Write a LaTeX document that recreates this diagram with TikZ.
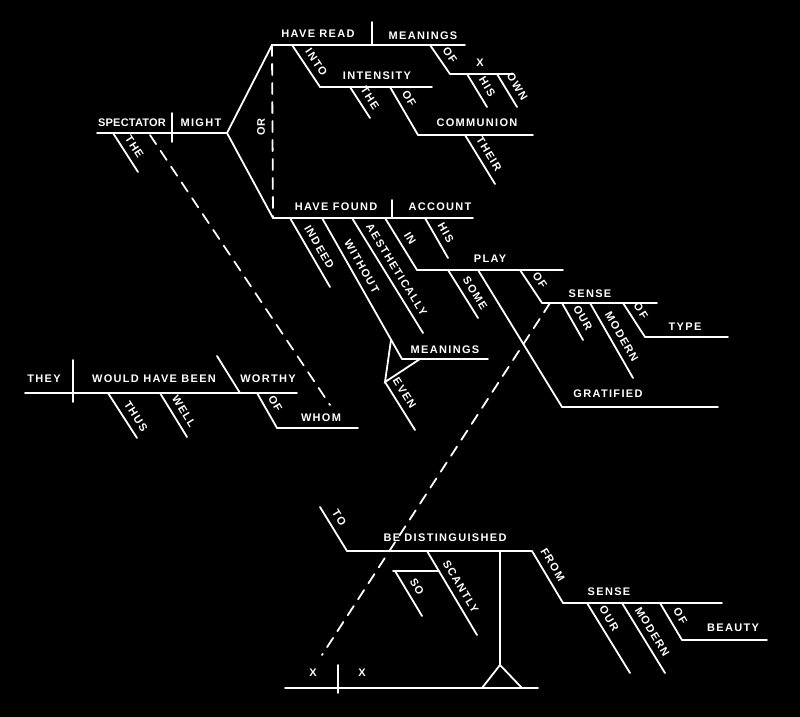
\documentclass[tikz,border=0pt]{standalone}
\usepackage{fontspec}
\newfontfamily\chalkfont[LetterSpace=12]{Liberation Sans Bold}
\newfontfamily\chalktight[LetterSpace=2]{Liberation Sans Bold}
\usetikzlibrary{positioning}

\tikzset{
  chalk/.style={draw=white, line width=1.8pt, line cap=round},
  chalkdash/.style={chalk, dash pattern=on 11pt off 8pt},
  word/.style={text=white, font=\chalkfont\fontsize{11}{13}\selectfont, inner sep=1pt},
  tightword/.style={word, font=\chalktight\fontsize{11}{13}\selectfont},
  mod/.style={word, sloped, above=5pt},
}

\begin{document}
\begin{tikzpicture}[x=1pt, y=-1pt]
    % Chalkboard
    \fill[black] (0,0) rectangle (800,717);
    \useasboundingbox (0,0) rectangle (800,717);

    % Main junctions
    \coordinate (sp0) at (97,133);
    \coordinate (fork) at (227,133);
    \coordinate (rd0) at (272,45);
    \coordinate (rd1) at (465,45);
    \coordinate (fd0) at (273,218);
    \coordinate (fd1) at (473,218);

    % Base lines
    \draw[chalk] (sp0) -- (fork);
    \draw[chalk] (rd1) -- (rd0) -- (fork) -- (fd0) -- (fd1);
    \draw[chalkdash] (rd0) -- (fd0);
    \node[word, rotate=90] (or) at (261,127) {OR};
    \draw[chalk] (25,393) -- (297,393);
    \draw[chalk] (285,688) -- (538,688);

    % Dividers
    \draw[chalk] (172,113) -- (172,142);
    \draw[chalk] (372,22) -- (372,45);
    \draw[chalk] (392,200) -- (392,218);
    \draw[chalk] (73,360) -- (73,402);
    \draw[chalk] (338,665) -- (338,693);
    \draw[chalk] (217,356) -- (240,393);

    % Object lines
    \draw[chalk] (320,87) -- (432,87);
    \draw[chalk] (450,74) -- (513,74);
    \draw[chalk] (418,135) -- (533,135);
    \draw[chalk] (417,270) -- (563,270);
    \draw[chalk] (542,303) -- (657,303);
    \draw[chalk] (645,337) -- (728,337);
    \draw[chalk] (402,359) -- (488,359);
    \draw[chalk] (478,270) -- (562,407) -- (718,407);
    \draw[chalk] (277,428) -- (358,428);
    \draw[chalk] (347,551) -- (532,551);
    \draw[chalk] (393,571) -- (439,571);
    \draw[chalk] (563,603) -- (722,603);
    \draw[chalk] (682,640) -- (767,640);

    % Even fork
    \draw[chalk] (391,340) -- (385,382) -- (420,359);

    % Infinitive stand
    \draw[chalk] (500,551) -- (500,665);
    \draw[chalk] (482,688) -- (500,665) -- (522,688);

    % Connectors
    \draw[chalkdash] (150,135) -- (330,405);
    \draw[chalkdash] (550,303) -- (322,655);

    % Modifiers
    \foreach \xa/\ya/\xb/\yb/\w/\p [count=\i] in {
        113/133/138/172/THE/.5, 292/45/320/87/INTO/.55,
        350/87/370/118/THE/.55, 430/45/450/74/OF/.55,
        467/74/487/107/HIS/.55, 497/74/517/107/OWN/.55,
        390/87/418/135/OF/.35, 465/135/495/184/THEIR/.5,
        290/218/330/287/INDEED/.5, 322/218/402/359/WITHOUT/.38,
        352/218/423/333/AESTHETICALLY/.5, 385/218/417/270/IN/.5,
        425/218/448/258/HIS/.5, 448/270/478/318/SOME/.6,
        520/270/542/303/OF/.5, 562/303/583/340/OUR/.55,
        590/303/633/378/MODERN/.52, 623/303/645/337/OF/.4,
        385/382/415/430/EVEN/.35, 108/393/137/438/THUS/.65,
        160/393/187/437/WELL/.55, 257/393/277/428/OF/.45,
        320/507/347/551/TO/.37, 427/551/477/635/SCANTLY/.49,
        395/571/422/616/SO/.47, 532/551/563/603/FROM/.37,
        587/603/630/673/OUR/.3, 622/603/665/673/MODERN/.49,
        660/603/682/640/OF/.5} {
        \draw[chalk] (\xa,\ya) -- node[mod, pos=\p] (m\i) {\w} (\xb,\yb);
    }

    % Words on the lines
    \node[tightword] (spectator) at (132,123) {SPECTATOR};
    \foreach \x/\y/\w [count=\i] in {
        201/123/MIGHT, 318/34/HAVE READ,
        423/36/MEANINGS, 480/63/X, 377/76/INTENSITY,
        477/123/COMMUNION, 336/207/HAVE FOUND, 440/207/ACCOUNT,
        490/259/PLAY, 445/350/MEANINGS, 590/294/SENSE,
        685/327/TYPE, 608/394/GRATIFIED, 44/379/THEY,
        154/379/WOULD HAVE BEEN, 268/379/WORTHY, 321/418/WHOM,
        445/538/BE DISTINGUISHED, 609/592/SENSE, 733/628/BEAUTY,
        313/673/X, 362/673/X} {
        \node[word] (w\i) at (\x,\y) {\w};
    }
\end{tikzpicture}
\end{document}
